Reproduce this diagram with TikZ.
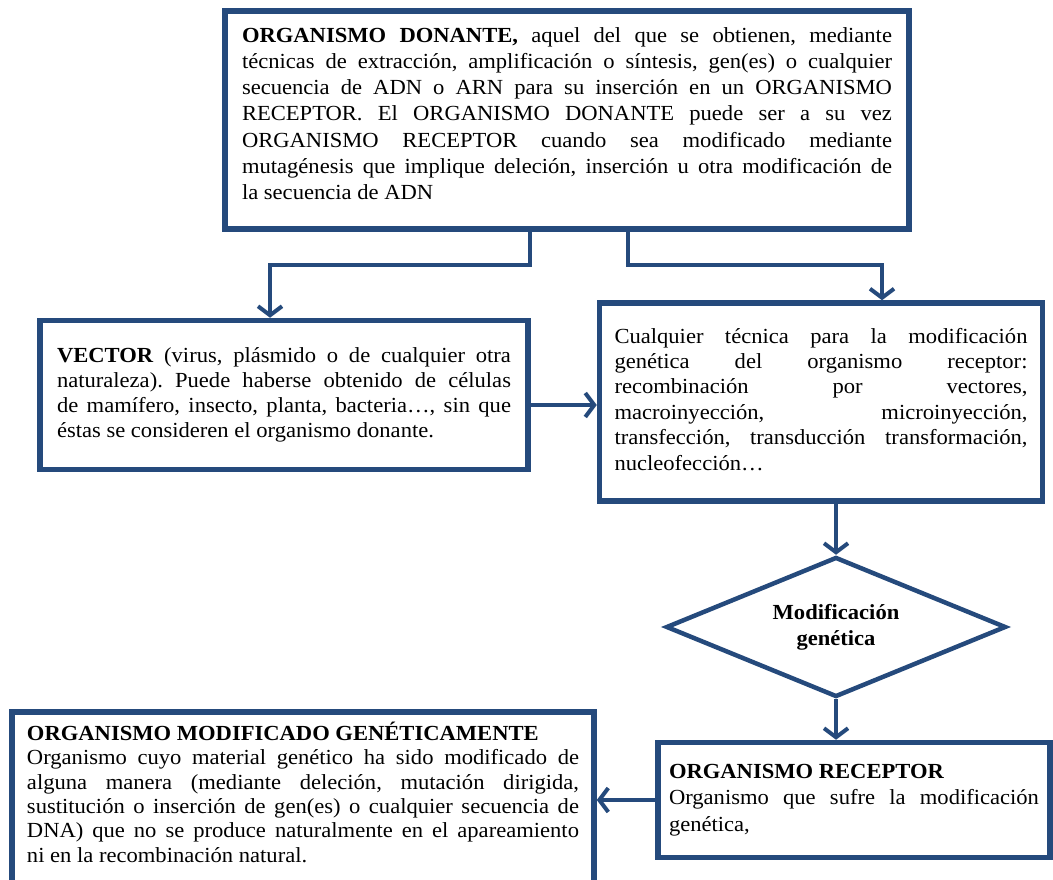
\documentclass[tikz,border=0pt]{standalone}
\usepackage{fontspec}
\setmainfont{Liberation Serif}[FakeStretch=1.05]
\usetikzlibrary{shapes.geometric,arrows.meta}
\definecolor{azul}{RGB}{37,74,124}
\hyphenpenalty=10000
\exhyphenpenalty=10000
\frenchspacing
\tikzset{
  caja/.style={draw=azul, line width=5.5pt, rectangle, align=justify, inner sep=0pt,
    font=\fontsize{21.5}{25}\selectfont},
  rombo/.style={draw=azul, line width=4.5pt, diamond, align=center, inner sep=0pt,
    font=\bfseries\fontsize{21.5}{26}\selectfont},
  flecha/.style={draw=azul, line width=4pt,
    -{Straight Barb[length=9pt,width=24pt]}}
}
\begin{document}
\begin{tikzpicture}[x=1pt,y=-1pt]
            \useasboundingbox (0,0) rectangle (1053,880);
            \clip (0,0) rectangle (1053,880);

            % Boxes
            \node[caja, minimum width=684, minimum height=218, text width=650,
                  font=\fontsize{21.5}{26.3}\selectfont] (donante) at (567,120)
              {\textbf{ORGANISMO DONANTE,} aquel del que se obtienen, mediante\linebreak
               técnicas de extracción, amplificación o síntesis, gen(es) o cualquier\linebreak
               secuencia de ADN o ARN para su inserción en un ORGANISMO\linebreak
               RECEPTOR. El ORGANISMO DONANTE puede ser a su vez\linebreak
               ORGANISMO RECEPTOR cuando sea modificado mediante\linebreak
               mutagénesis que implique deleción, inserción u otra modificación de\linebreak
               la secuencia de ADN\rule[-13pt]{0pt}{13pt}};
            \node[caja, minimum width=488, minimum height=149, text width=454] (vector) at (284,395)
              {\textbf{VECTOR} (virus, plásmido o de cualquier otra\linebreak
               naturaleza). Puede haberse obtenido de células\linebreak
               de mamífero, insecto, planta, bacteria…, sin que\linebreak
               éstas se consideren el organismo donante.};
            \node[caja, minimum width=443, minimum height=198, text width=413,
                  font=\fontsize{21.5}{25.4}\selectfont] (tecnica) at (821,402)
              {Cualquier técnica para la modificación\linebreak
               genética del organismo receptor:\linebreak
               recombinación por vectores,\linebreak
               macroinyección, microinyección,\linebreak
               transfección, transducción transformación,\linebreak
               nucleofección…\rule[-6pt]{0pt}{6pt}};
            \node[rombo, minimum width=340, minimum height=140, aspect=2.4] (modif) at (836,627)
              {Modificación\\genética};
            \node[caja, minimum width=392, minimum height=115, text width=370,
                  font=\fontsize{21.5}{26.5}\selectfont] (receptor) at (854,800)
              {\textbf{ORGANISMO RECEPTOR}\\
               Organismo que sufre la modificación\linebreak
               genética,};
            \node[caja, minimum width=582, minimum height=180, text width=552,
                  font=\fontsize{21.5}{24.4}\selectfont] (omg) at (303,802)
              {\textbf{ORGANISMO MODIFICADO GENÉTICAMENTE}\\
               Organismo cuyo material genético ha sido modificado de\linebreak
               alguna manera (mediante deleción, mutación dirigida,\linebreak
               sustitución o inserción de gen(es) o cualquier secuencia de\linebreak
               DNA) que no se produce naturalmente en el apareamiento\linebreak
               ni en la recombinación natural.\rule[-20pt]{0pt}{20pt}};

            % Turning points
            \coordinate (sal1) at (530,265);
            \coordinate (giro1) at (270,265);
            \coordinate (sal2) at (628,265);
            \coordinate (giro2) at (882,265);
            \coordinate (medio) at (0,405);

            % Arrows
            \draw[flecha] (donante.south -| sal1) -- (sal1) -- (giro1) -- (giro1 |- vector.north);
            \draw[flecha] (donante.south -| sal2) -- (sal2) -- (giro2) -- (giro2 |- tecnica.north);
            \draw[flecha] (vector.east |- medio) -- (tecnica.west |- medio);
            \draw[flecha] (modif.north |- tecnica.south) -- (modif.north);
            \draw[flecha] (modif.south) -- (modif.south |- receptor.north);
            \draw[flecha] (receptor.west) -- (receptor.west -| omg.east);
          \end{tikzpicture}
\end{document}
